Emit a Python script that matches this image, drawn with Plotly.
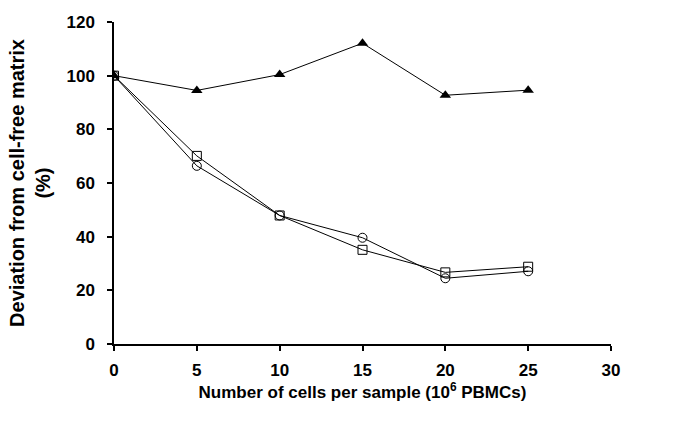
import plotly.graph_objects as go

cells = [0, 5, 10, 15, 20, 25]
triangle_vals = [100, 94.5, 100.4, 112.1, 92.7, 94.6]
square_vals = [100, 70.1, 47.9, 35.1, 26.7, 28.8]
circle_vals = [100, 66.4, 47.9, 39.6, 24.5, 27.1]

x_ticks = [0, 5, 10, 15, 20, 25, 30]
y_ticks = [0, 20, 40, 60, 80, 100, 120]

FONT = "Liberation Sans, Arial, sans-serif"

fig = go.Figure()
fig.add_trace(go.Scatter(x=cells, y=circle_vals, mode="lines+markers",
                         line=dict(color="black", width=1),
                         marker=dict(symbol="circle-open", size=9, color="black", line=dict(width=1))))
fig.add_trace(go.Scatter(x=cells, y=square_vals, mode="lines+markers",
                         line=dict(color="black", width=1),
                         marker=dict(symbol="square-open", size=9, color="black", line=dict(width=1))))
fig.add_trace(go.Scatter(x=cells, y=triangle_vals, mode="lines+markers",
                         line=dict(color="black", width=1),
                         marker=dict(symbol="triangle-up", size=10, color="black")))

fig.update_layout(
    width=700, height=425,
    margin=dict(l=114, r=89, t=22, b=81),
    paper_bgcolor="white", plot_bgcolor="white",
    showlegend=False,
    font=dict(family=FONT, size=17, color="black"),
)
fig.update_xaxes(
    range=[0, 30], tickvals=x_ticks, ticktext=[f"<b>{v}</b>" for v in x_ticks],
    showline=True, linecolor="black", linewidth=1.5,
    ticks="outside", ticklen=5, tickcolor="black", tickwidth=1.5,
    showgrid=False, zeroline=False, ticklabelstandoff=5,
    title=dict(text="<b>Number of cells per sample (10<sup>6</sup> PBMCs)</b>", font=dict(size=17), standoff=6),
)
fig.update_yaxes(
    range=[0, 120], tickvals=y_ticks, ticktext=[f"<b>{v}</b>" for v in y_ticks],
    showline=True, linecolor="black", linewidth=1.5,
    ticks="outside", ticklen=5, tickcolor="black", tickwidth=1.5,
    showgrid=False, zeroline=False, ticklabelstandoff=9,
    title=dict(text="<b>Deviation from cell-free matrix<br>(%)</b>", font=dict(size=20), standoff=10),
)

fig.write_html("out.html")
